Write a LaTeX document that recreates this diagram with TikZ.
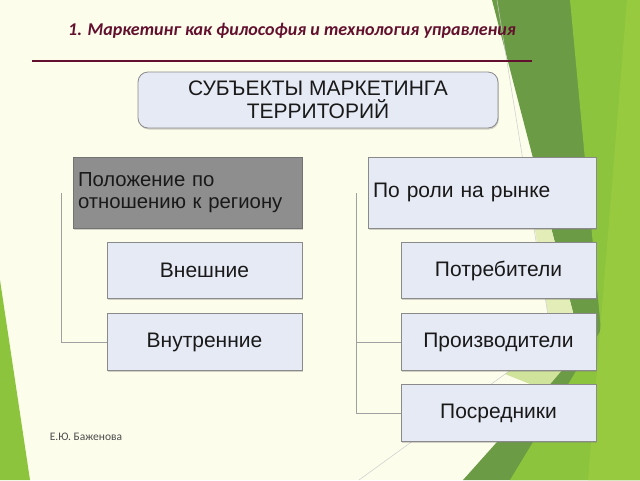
\documentclass[tikz,border=0pt]{standalone}
\usepackage{fontspec}
\setmainfont{Liberation Sans}
\newfontfamily\titlefont{Carlito}
\usetikzlibrary{shadows}
\definecolor{bgcream}{HTML}{FDFDEC}
\definecolor{gdark}{HTML}{6C9B45}
\definecolor{gbright}{HTML}{8CC43D}
\definecolor{gbrighter}{HTML}{97CA3E}
\definecolor{glight}{HTML}{E2EDB8}
\definecolor{glight2}{HTML}{CFE39A}
\definecolor{maroon}{HTML}{62102E}
\definecolor{boxfill}{HTML}{E6EAF5}
\definecolor{boxline}{HTML}{8A8A8A}
\definecolor{grayfill}{HTML}{8E8E8E}
\definecolor{linegray}{HTML}{A0A0A0}
\tikzset{
  cell/.style={draw=boxline, fill=boxfill, line width=0.8pt, inner sep=0pt, outer sep=0pt,
    font=\fontsize{21}{23}\selectfont, text=black!90, align=center,
    drop shadow={shadow xshift=0.8pt, shadow yshift=-1.5pt, opacity=0.35}},
  conn/.style={draw=linegray, line width=0.8pt},
}
\begin{document}
\begin{tikzpicture}[x=1pt, y=-1pt]
\useasboundingbox (0,0) rectangle (640,480);
\fill[bgcream] (0,0) rectangle (640,480);
% background facets
\fill[gdark] (492,0) -- (640,0) -- (640,480) -- (463,480) -- (582,347) -- cycle;
\fill[gbright] (570,0) -- (640,0) -- (640,480) -- (510,480) -- (601,330) -- cycle;
\fill[gbrighter] (627,0) -- (640,0) -- (640,480) -- (588,480) -- cycle;
\fill[glight] (528,185) -- (540,185) -- (582,347) -- (552,340) -- cycle;
\fill[glight2] (552,340) -- (582,347) -- (545,390) -- (505,374) -- cycle;
\draw[color=black!20, line width=0.5pt] (497,0) -- (552,340) -- (359,480);
\fill[gbright] (0,280) -- (30,480) -- (0,480) -- cycle;
% title
\node[font=\titlefont\bfseries\itshape\fontsize{18}{22}\selectfont, text=maroon] (title) at (292,31)
  {1. Маркетинг как философия и технология управления};
\draw[maroon, line width=2.6pt] (32,61) -- (532,61);
% top box
\node[cell, rounded corners=10pt, minimum width=360pt, minimum height=56pt] (top) at (318,100)
  {СУБЪЕКТЫ МАРКЕТИНГА\\ТЕРРИТОРИЙ};
% headers
\node[cell, fill=grayfill, draw=black!55, minimum width=229pt, minimum height=71pt,
  text width=219pt, align=left, font=\fontsize{20.3}{22}\selectfont] (hl) at (187.5,193)
  {Положение по\\отношению к региону};
\node[cell, minimum width=228pt, minimum height=71pt, text width=218pt, align=left] (hr) at (482,192.5)
  {По роли на рынке};
% left column
\node[cell, minimum width=195pt, minimum height=56pt] (b1) at (204.5,270.5) {Внешние};
\node[cell, minimum width=195pt, minimum height=57pt] (b2) at (204.5,342) {Внутренние};
% right column
\node[cell, minimum width=195pt, minimum height=56pt] (r1) at (498.5,270.5) {Потребители};
\node[cell, minimum width=195pt, minimum height=57pt] (r2) at (498.5,342) {Производители};
\node[cell, minimum width=195pt, minimum height=57pt] (r3) at (498.5,413) {Посредники};
% connectors
\coordinate (lt) at (61,193);
\coordinate (rt) at (356,193);
\draw[conn] (lt) |- (b2.west);
\draw[conn] (rt) |- (r3.west);
\draw[conn] (rt |- r2.west) -- (r2.west);
% footer
\node[font=\titlefont\fontsize{11.5}{13}\selectfont, text=black!70] (foot) at (86,437) {Е.Ю. Баженова};
\end{tikzpicture}
\end{document}
